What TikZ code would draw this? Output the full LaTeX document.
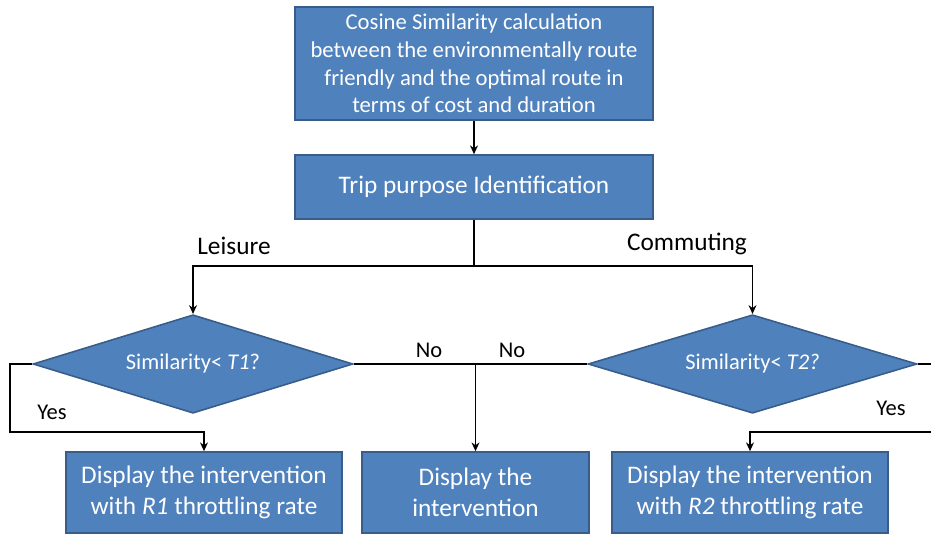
\documentclass[tikz,border=0pt]{standalone}
\usepackage{fontspec}
\setmainfont{Carlito}
\usetikzlibrary{shapes.geometric,arrows.meta,positioning}

\definecolor{boxblue}{HTML}{4F81BD}
\definecolor{boxedge}{HTML}{385D8A}

\begin{document}
\begin{tikzpicture}[x=0.02cm, y=-0.02cm,
    box/.style={rectangle, draw=boxedge, fill=boxblue, line width=0.9pt, text=white, align=center, inner sep=0pt},
    decision/.style={diamond, aspect=3.25, draw=boxedge, fill=boxblue, line width=0.9pt, text=white, inner sep=0pt, minimum width=6.4cm, minimum height=1.97cm},
    lbl/.style={font=\fontsize{14.4}{17.6}\selectfont},
    small/.style={font=\fontsize{12.8}{15.4}\selectfont},
    link/.style={line width=0.9pt, -{Stealth[length=5pt, width=4.5pt]}}]
  \useasboundingbox (0,0) rectangle (931,536);

  \node(main) [box, minimum width=7.16cm, minimum height=2.26cm, font=\fontsize{12.9}{15.7}\selectfont] at (474,63.5)
    {Cosine Similarity calculation\\between the environmentally route\\friendly and the optimal route in\\terms of cost and duration};
  \node(trip) [box, minimum width=7.16cm, minimum height=1.28cm, lbl] at (474,187) {Trip purpose Identification};

  \node(ldec) [decision, small] at (193,364) {\raisebox{-2pt}{Similarity< \textit{T1}?}};
  \node(rdec) [decision, small, aspect=3.4, minimum width=6.58cm] at (752.5,364) {\raisebox{-2pt}{Similarity< \textit{T2?}}};

  \node(lbox) [box, minimum width=5.52cm, minimum height=1.62cm, lbl] at (204,492.5) {Display the intervention\\with \textit{R1} throttling rate};
  \node(mbox) [box, minimum width=4.54cm, minimum height=1.62cm, lbl] at (475.5,492.5) {Display the\\intervention};
  \node(rbox) [box, minimum width=5.52cm, minimum height=1.62cm, lbl] at (750,492.5) {Display the intervention\\with \textit{R2} throttling rate};

  \coordinate(split) at (474,266);
  \coordinate(lturn) at (10,364);
  \coordinate(lback) at (10,432);
  \coordinate(redge) at (931,364);
  \coordinate(rback) at (931,432);

  \draw[link] (main) -- (trip);
  \draw[line width=0.9pt] (trip) -- (split);
  \draw[link] (split) -| (ldec);
  \draw[link] (split) -| (rdec);

  \draw[link] (ldec.west) -- (lturn) -- (lback) -| (lbox);
  \draw[line width=0.9pt] (ldec.east) -- (rdec.west);
  \draw[link] (ldec.east -| mbox.north) -- (mbox);
  \draw[line width=0.9pt] (rdec.east) -- (redge);
  \draw[link] (rback) -| (rbox);

  \node(leisure) [lbl] at (234,246) {Leisure};
  \node(commuting) [lbl] at (687,244) {Commuting};
  \node(lno) [small] at (429,350) {No};
  \node(rno) [small] at (512,350) {No};
  \node(lyes) [small] at (52,412) {Yes};
  \node(ryes) [small] at (891,408) {Yes};
\end{tikzpicture}
\end{document}
